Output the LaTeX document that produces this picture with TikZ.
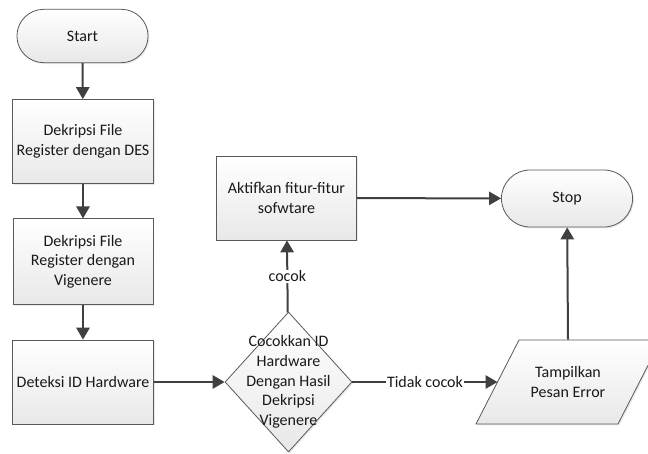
\documentclass[tikz,border=0pt]{standalone}
\usepackage{fontspec}
\setmainfont{Carlito}
\usetikzlibrary{shapes.geometric,shapes.misc,arrows.meta,shadows}

\begin{document}
\begin{tikzpicture}[x=0.75pt,y=-0.75pt]
\clip (0,0) rectangle (648,453);
\begin{scope}
	\tikzstyle{every node}=[align=center, font=\fontsize{12}{14.7}\selectfont, text=black!90]
	\tikzstyle{shapefill}=[draw=black!65, line width=0.6pt, top color=white, bottom color=black!9, drop shadow={shadow xshift=1pt, shadow yshift=-1pt, opacity=0.18}]
	\tikzstyle{box}=[shapefill, rectangle, minimum width=105pt, minimum height=63pt]
	\tikzstyle{term}=[shapefill, rounded rectangle, minimum width=105pt, minimum height=40pt]
	\tikzstyle{arr}=[line width=1.5pt, draw=black!75, -{Triangle[width=10pt,length=9pt]}]
	\tikzstyle{lbl}=[fill=white, inner sep=0.5pt]

	\node[term] (start) at (82.5, 36) {Start};
	\node[box] (dek1) at (83, 141.5) {Dekripsi File\\Register dengan DES};
	\node[box, minimum height=64pt] (dek2) at (83, 261.5) {Dekripsi File\\Register dengan\\Vigenere};
	\node[box] (det) at (83, 382) {Deteksi ID Hardware};

	\node[shapefill, diamond, minimum width=95.25pt, minimum height=105pt, inner sep=0pt] (cek) at (288.5, 382) {};
	\node (cekT) at (288.5, 382) {Cocokkan ID\\Hardware\\Dengan Hasil\\Dekripsi\\Vigenere};

	\node[box] (akt) at (286.5, 198) {Aktifkan fitur-fitur\\sofwtare};
	\node[term, minimum height=42.75pt] (stop) at (567, 198.5) {Stop};

	% parallelogram for the error output
	\draw[shapefill] (476, 424) -- (519, 340) -- (661, 340) -- (618, 424) -- cycle;
	\node[minimum height=63pt, inner sep=0pt] (err) at (568, 382) {Tampilkan\\Pesan Error};
	\coordinate (errL) at (497.5, 382);

	\draw [arr] (start) -- (dek1);
	\draw [arr] (dek1) -- (dek2);
	\draw [arr] (dek2) -- (det);
	\draw [arr] (det) -- (cek);
	\draw [arr] (cek) -- node[lbl] {cocok} (akt);
	\draw [arr] (akt) -- (stop);
	\draw [arr] (cek) -- node[lbl] {Tidak cocok} (errL);
	\draw [arr] (err.north) -- (stop);
\end{scope}
\end{tikzpicture}
\end{document}
